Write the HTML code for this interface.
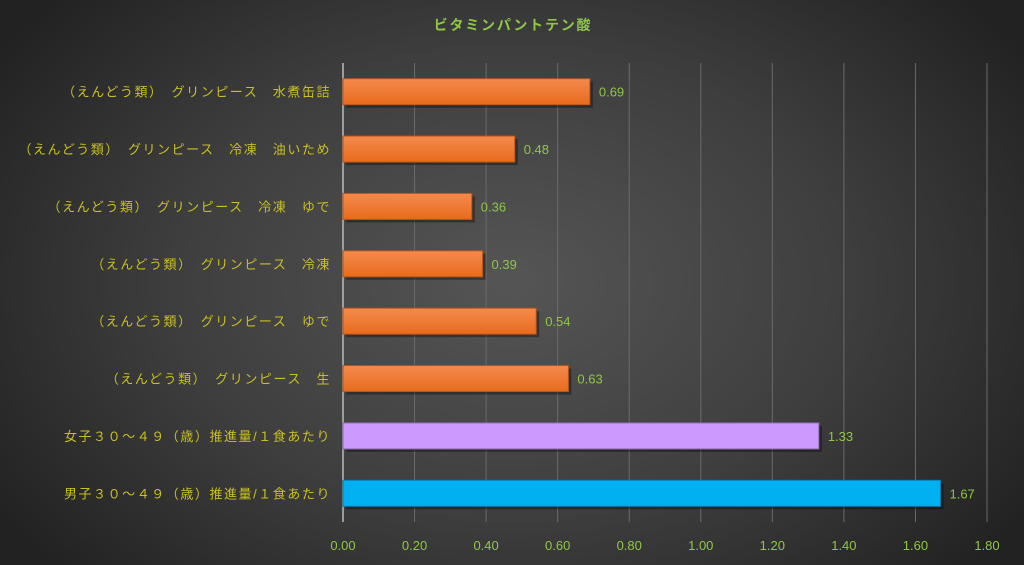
<!DOCTYPE html>
<html><head><meta charset="utf-8"><style>
html,body{margin:0;padding:0;width:1024px;height:565px;overflow:hidden}
body{background:radial-gradient(ellipse 60% 75% at 50% 50%,#555 0%,#3e3e3e 55%,#222 100%);font-family:"Liberation Sans","Noto Sans CJK JP",sans-serif}
</style></head><body>
<svg width="1024" height="565" id="c">
<defs>
<linearGradient id="og" x1="0" y1="0" x2="0" y2="1"><stop offset="0" stop-color="#f48a4e"/><stop offset="1" stop-color="#e86b1c"/></linearGradient>
</defs>
<text x="513" y="30" text-anchor="middle" fill="#8fc646" font-size="14" font-weight="bold" letter-spacing="1.8">ビタミンパントテン酸</text>
<g id="grid"></g><g id="bars"></g><g id="labels"></g>
</svg>
<script>
const categories=["（えんどう類）　グリンピース　水煮缶詰","（えんどう類）　グリンピース　冷凍　油いため","（えんどう類）　グリンピース　冷凍　ゆで","（えんどう類）　グリンピース　冷凍","（えんどう類）　グリンピース　ゆで","（えんどう類）　グリンピース　生","女子３０～４９（歳）推進量/１食あたり","男子３０～４９（歳）推進量/１食あたり"];
const values=[0.69,0.48,0.36,0.39,0.54,0.63,1.33,1.67];
const valueLabels=["0.69","0.48","0.36","0.39","0.54","0.63","1.33","1.67"];
const ticks=[0,0.2,0.4,0.6,0.8,1.0,1.2,1.4,1.6,1.8];
const tickLabels=["0.00","0.20","0.40","0.60","0.80","1.00","1.20","1.40","1.60","1.80"];
const colors=["url(#og)","url(#og)","url(#og)","url(#og)","url(#og)","url(#og)","#cc99ff","#00b0f0"];
const NS="http://www.w3.org/2000/svg";
const X0=343,X1=987,Y0=63,Y1=522;
const xs=v=>X0+(v/1.8)*(X1-X0);
const band=(Y1-Y0)/categories.length;
const yc=i=>Y0+band*(i+0.5);
function mk(t,a,p){const e=document.createElementNS(NS,t);for(const k in a)e.setAttribute(k,a[k]);p.appendChild(e);return e;}
const g=document.getElementById('grid'),b=document.getElementById('bars'),l=document.getElementById('labels');
ticks.forEach((t,i)=>{
  if(i>0){const ln=mk('line',{x1:xs(t),x2:xs(t),y1:Y0,y2:Y1,stroke:'#6a6a6a','stroke-width':1},g);
  
  }
  const tx=mk('text',{x:xs(t),y:550,'text-anchor':'middle',fill:'#8fc646','font-size':13},l);
  tx.textContent=tickLabels[i];
  
  
});
const ax=mk('line',{x1:X0,x2:X0,y1:Y0,y2:Y1,stroke:'#bbb','stroke-width':1.5},g);


values.forEach((v,i)=>{
  const h=26,y=yc(i)-h/2;
  mk('rect',{x:X0+3,y:y+3,width:xs(v)-X0,height:h,fill:'rgba(0,0,0,0.35)'},b);
  const r=mk('rect',{x:X0,y:y,width:xs(v)-X0,height:h,fill:colors[i],stroke:i<6?'#b8561a':(i==6?'#8e6bb0':'#0a7fb0'),'stroke-width':1},b);
  
  
  const vt=mk('text',{x:xs(v)+9,y:yc(i)+5,fill:'#8fc646','font-size':13},l);
  vt.textContent=valueLabels[i];
  
  
  const ct=mk('text',{x:331,y:yc(i)+5,'text-anchor':'end',fill:'#c8c020','font-size':13,'letter-spacing':1.55},l);
  ct.textContent=categories[i];
  
  
});
</script>
</body></html>
